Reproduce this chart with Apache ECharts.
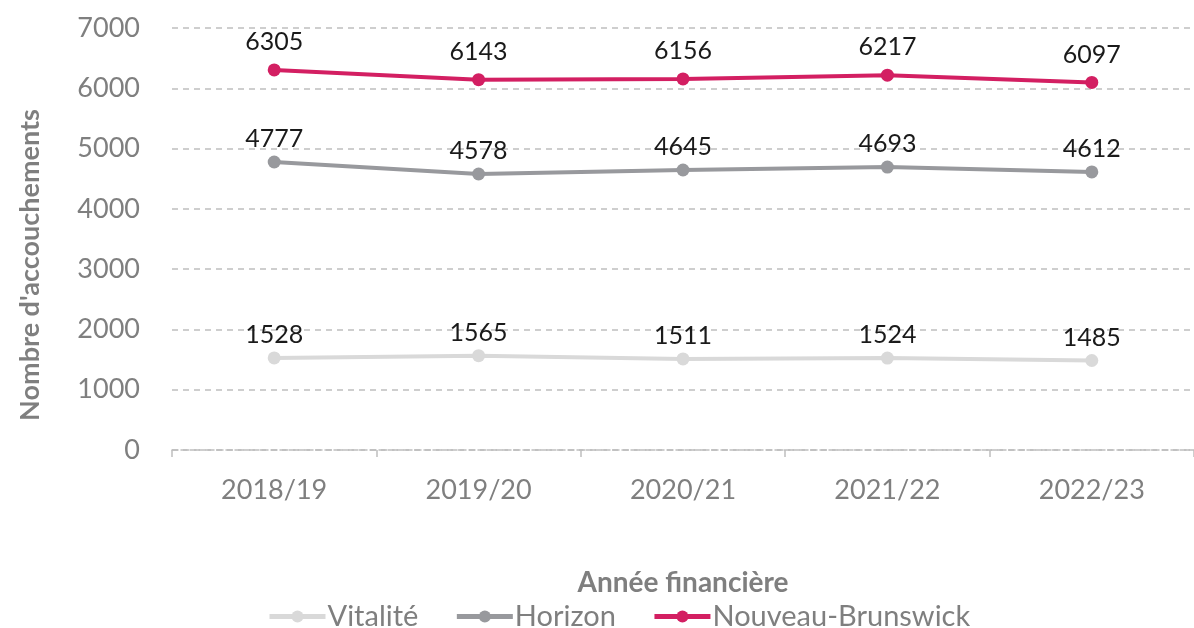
<!DOCTYPE html>
<html>
<head>
<meta charset="utf-8">
<script src="https://cdn.jsdelivr.net/npm/echarts@6/dist/echarts.min.js"></script>
<style>
  html, body { margin: 0; padding: 0; background: #fff; }
  #chart { width: 1194px; height: 628px; }
</style>
</head>
<body>
<div id="chart"></div>
<script>
const years = ['2018/19', '2019/20', '2020/21', '2021/22', '2022/23']
const vitalite = [1528, 1565, 1511, 1524, 1485]
const horizon = [4777, 4578, 4645, 4693, 4612]
const nouveauBrunswick = [6305, 6143, 6156, 6217, 6097]

const font = 'Lato, "Open Sans", sans-serif'
const axisGrey = '#7f7f7f'

function lineSeries(name, data, color, labelGap) {
  return {
    name,
    type: 'line',
    data,
    symbol: 'circle',
    symbolSize: 13,
    lineStyle: { width: 4, color },
    itemStyle: { color },
    label: {
      show: true,
      position: 'top',
      distance: labelGap,
      color: '#1a1a1a',
      fontFamily: font,
      fontSize: 25,
    },
  }
}

const chart = echarts.init(document.getElementById('chart'))
chart.setOption({
  animation: false,
  textStyle: { fontFamily: font },
  grid: { left: 172, right: 0, top: 28, bottom: 178, outerBoundsMode: 'none' },
  legend: {
    top: 597,
    left: 262,
    itemWidth: 56,
    itemHeight: 15,
    itemGap: 36,
    lineStyle: { width: 5 },
    textStyle: { color: axisGrey, fontSize: 29, fontFamily: font, padding: [0, 0, 0, -3] },
    data: ['Vitalité', 'Horizon', 'Nouveau-Brunswick'],
  },
  xAxis: {
    type: 'category',
    data: years,
    boundaryGap: true,
    name: 'Année financière',
    nameLocation: 'middle',
    nameGap: 119,
    nameTextStyle: { color: axisGrey, fontSize: 28, fontWeight: 'bold', fontFamily: font },
    axisLine: { show: true, lineStyle: { color: '#bfbfbf', type: 'dashed', width: 1.5 } },
    axisTick: { show: true, length: 7, lineStyle: { color: '#bfbfbf', width: 1.5 } },
    axisLabel: { color: axisGrey, fontSize: 27, margin: 27, fontFamily: font },
  },
  yAxis: {
    type: 'value',
    min: 0,
    max: 7000,
    interval: 1000,
    name: "Nombre d'accouchements",
    nameLocation: 'middle',
    nameGap: 128,
    nameTextStyle: { color: axisGrey, fontSize: 27, fontWeight: 'bold', fontFamily: font, padding: [0, 52, 0, 0] },
    axisLine: { show: false },
    axisTick: { show: false },
    axisLabel: { color: axisGrey, fontSize: 27, margin: 32, fontFamily: font, formatter: (v) => String(v) },
    splitLine: { lineStyle: { color: '#bfbfbf', type: [6, 5], width: 1.5 } },
  },
  series: [
    lineSeries('Vitalité', vitalite, '#d9d9d9', 4),
    lineSeries('Horizon', horizon, '#98999d', 4),
    lineSeries('Nouveau-Brunswick', nouveauBrunswick, '#d31f62', 9),
  ],
})
</script>
</body>
</html>
